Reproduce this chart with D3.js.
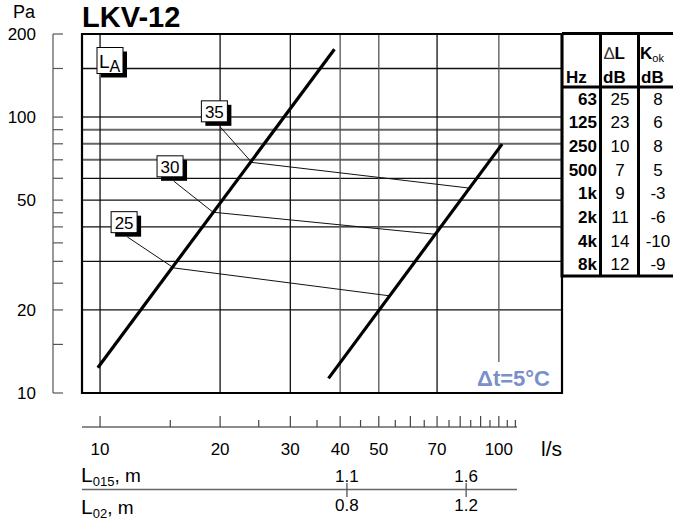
<!DOCTYPE html>
<html>
<head>
<meta charset="utf-8">
<script src="https://cdn.jsdelivr.net/npm/d3@7"></script>
<style>
  body { margin: 0; background: #fff; }
  text { font-family: Arial, "Liberation Sans", sans-serif; }
</style>
</head>
<body>
<script>
const width = 673
const height = 521

// y axis (Pa)
const yTicks = [10, 15, 20, 25, 30, 35, 40, 45, 50, 60, 70, 80, 90, 100, 150, 200]
const yLabels = [10, 20, 50, 100, 200]
const yGridDark = [20, 30, 40, 50, 60, 150]
const yGridGray = [70, 80, 90, 100]

// x axis (l/s)
const xGrid = [10, 20, 30, 40, 50, 70, 100]
const xLabels = [10, 20, 30, 40, 50, 70, 100]
const xMajor = [10, 20, 30, 40, 50, 60, 70, 80, 90, 100]
const xMinor = [15, 25, 35, 45, 55, 65, 75, 85, 95, 105, 110]

// throw distances (position on the flow scale)
const throwTicks = [41.6, 82.8]
const l015Labels = ['1.1', '1.6']
const l02Labels = ['0.8', '1.2']

// pressure curves [flow, Pa]
const curveA = [[9.87, 12.35], [38.7, 176]]
const curveB = [[37.4, 11.3], [101.9, 79.8]]

// sound level lines
const laNames = ['25', '30', '35']
const laLines = [
  [[11.7, 36.8], [15.3, 28.4], [53.2, 22.5]],
  [[15.3, 58.6], [19.2, 45.2], [69.2, 37.6]],
  [[20.0, 92.2], [24.0, 68.5], [84.2, 55.3]]
]
const laBoxes = [[11.49, 41.6], [14.98, 66.3], [19.35, 104.9]]

// table
const hz = ['63', '125', '250', '500', '1k', '2k', '4k', '8k']
const deltaL = [25, 23, 10, 7, 9, 11, 14, 12]
const kok = [8, 6, 8, 5, -3, -6, -10, -9]

const frame = { left: 82, right: 562, top: 34, bottom: 393 }

const svg = d3.select('body').append('svg')
  .attr('width', width)
  .attr('height', height)

const x = d3.scaleLog().domain([9.01, 144]).range([frame.left, frame.right])
const y = d3.scaleLog().domain([10, 200]).range([frame.bottom, frame.top])

// title & unit
svg.append('text').attr('x', 82).attr('y', 27)
  .attr('font-size', 29).attr('font-weight', 'bold').text('LKV-12')
svg.append('text').attr('x', 13).attr('y', 18)
  .attr('font-size', 18).text('Pa')

// left axis
svg.append('line')
  .attr('x1', 53).attr('x2', 53)
  .attr('y1', y(200)).attr('y2', y(10))
  .attr('stroke', '#555').attr('stroke-width', 1.2)
svg.selectAll('.ytick').data(yTicks).enter().append('line')
  .attr('x1', 53).attr('x2', 63)
  .attr('y1', y).attr('y2', y)
  .attr('stroke', '#555').attr('stroke-width', 1.2)
svg.selectAll('.ylab').data(yLabels).enter().append('text')
  .attr('x', 36).attr('y', d => y(d) + 6)
  .attr('text-anchor', 'end').attr('font-size', 17)
  .text(d => d)

// grid
const grid = svg.append('g')
grid.selectAll('.yg').data(yGridDark).enter().append('line')
  .attr('x1', frame.left).attr('x2', frame.right)
  .attr('y1', y).attr('y2', y)
  .attr('stroke', '#111').attr('stroke-width', 1.3)
grid.selectAll('.yg2').data(yGridGray).enter().append('line')
  .attr('x1', frame.left).attr('x2', frame.right)
  .attr('y1', y).attr('y2', y)
  .attr('stroke', '#666').attr('stroke-width', 2)
grid.selectAll('.xg').data(xGrid).enter().append('line')
  .attr('x1', x).attr('x2', x)
  .attr('y1', frame.top).attr('y2', frame.bottom)
  .attr('stroke', d => d >= 40 && d !== 70 ? '#555' : '#111')
  .attr('stroke-width', 1.3)

// white patch behind the temperature note
svg.append('rect')
  .attr('x', 466).attr('y', 362).attr('width', 95).attr('height', 30)
  .attr('fill', '#fff')
svg.append('text')
  .attr('x', 550).attr('y', 386)
  .attr('text-anchor', 'end')
  .attr('font-size', 22).attr('font-weight', 'bold')
  .attr('fill', '#7b8fca')
  .text('Δt=5°C')

// frame
svg.append('path')
  .attr('d', `M${frame.right},${frame.top}H${frame.left}V${frame.bottom}H${frame.right}V${frame.top}`)
  .attr('fill', 'none').attr('stroke', '#000').attr('stroke-width', 2.2)

const line = d3.line().x(d => x(d[0])).y(d => y(d[1]))

// sound level lines
svg.selectAll('.la').data(laLines).enter().append('path')
  .attr('d', line)
  .attr('fill', 'none').attr('stroke', '#111').attr('stroke-width', 1)

// pressure curves
svg.selectAll('.curve').data([curveA, curveB]).enter().append('path')
  .attr('d', line)
  .attr('fill', 'none').attr('stroke', '#000').attr('stroke-width', 3.2)

// label boxes with shadow
function labelBox(cx, cy, w, h) {
  const g = svg.append('g')
  g.append('rect')
    .attr('x', cx - w / 2 + 4).attr('y', cy - h / 2 + 4)
    .attr('width', w).attr('height', h).attr('fill', '#000')
  g.append('rect')
    .attr('x', cx - w / 2).attr('y', cy - h / 2)
    .attr('width', w).attr('height', h)
    .attr('fill', '#fff').attr('stroke', '#000').attr('stroke-width', 1)
  return g
}

laBoxes.forEach((d, i) => {
  const g = labelBox(x(d[0]), y(d[1]), 26, 21)
  g.append('text')
    .attr('x', x(d[0])).attr('y', y(d[1]) + 6.5)
    .attr('text-anchor', 'middle').attr('font-size', 17)
    .text(laNames[i])
})

const la = labelBox(110, 60.5, 26, 26)
const laText = la.append('text').attr('x', 99).attr('y', 68).attr('font-size', 19)
laText.append('tspan').text('L')
laText.append('tspan').attr('font-size', 16).attr('dy', 4).text('A')

// bottom flow axis
const axisY = 427
svg.append('line')
  .attr('x1', frame.left).attr('x2', 517)
  .attr('y1', axisY).attr('y2', axisY)
  .attr('stroke', '#666').attr('stroke-width', 1.5)
svg.selectAll('.xmaj').data(xMajor).enter().append('line')
  .attr('x1', x).attr('x2', x)
  .attr('y1', axisY - 11).attr('y2', axisY)
  .attr('stroke', '#444').attr('stroke-width', 1.2)
svg.selectAll('.xmin').data(xMinor).enter().append('line')
  .attr('x1', x).attr('x2', x)
  .attr('y1', axisY - 7).attr('y2', axisY)
  .attr('stroke', '#444').attr('stroke-width', 1.2)
svg.selectAll('.xlab').data(xLabels).enter().append('text')
  .attr('x', x).attr('y', 455)
  .attr('text-anchor', 'middle').attr('font-size', 17)
  .text(d => d)
svg.append('text').attr('x', 541).attr('y', 456)
  .attr('font-size', 21).text('l/s')

// throw distance scale
function subLabel(yPos, sub) {
  const t = svg.append('text').attr('x', 81).attr('y', yPos).attr('font-size', 21)
  t.append('tspan').text('L')
  t.append('tspan').attr('font-size', 13).attr('dy', 4).text(sub)
  t.append('tspan').attr('dy', -4).attr('font-size', 19).text(', m')
}
subLabel(482, '015')
subLabel(514, '02')

svg.append('line')
  .attr('x1', frame.left).attr('x2', 517)
  .attr('y1', 489.5).attr('y2', 489.5)
  .attr('stroke', '#666').attr('stroke-width', 1.5)
svg.selectAll('.ttick').data(throwTicks).enter().append('line')
  .attr('x1', x).attr('x2', x)
  .attr('y1', 483).attr('y2', 497)
  .attr('stroke', '#555').attr('stroke-width', 1.3)
svg.selectAll('.t1').data(throwTicks).enter().append('text')
  .attr('x', x).attr('y', 482)
  .attr('text-anchor', 'middle').attr('font-size', 17)
  .text((d, i) => l015Labels[i])
svg.selectAll('.t2').data(throwTicks).enter().append('text')
  .attr('x', x).attr('y', 511)
  .attr('text-anchor', 'middle').attr('font-size', 17)
  .text((d, i) => l02Labels[i])

// octave table
const table = svg.append('g')
const rowY = d3.scaleBand().domain(hz).range([87, 276])
const cols = { c1: 562, c2: 600.5, c3: 638.5, end: 673 }

table.selectAll('.hz').data(hz).enter().append('text')
  .attr('x', 597).attr('y', d => rowY(d) + rowY.bandwidth() / 2 + 6)
  .attr('text-anchor', 'end').attr('font-size', 17).attr('font-weight', 'bold')
  .text(d => d)
table.selectAll('.dl').data(deltaL).enter().append('text')
  .attr('x', 620).attr('y', (d, i) => rowY(hz[i]) + rowY.bandwidth() / 2 + 6)
  .attr('text-anchor', 'middle').attr('font-size', 17)
  .text(d => d)
table.selectAll('.kok').data(kok).enter().append('text')
  .attr('x', 658).attr('y', (d, i) => rowY(hz[i]) + rowY.bandwidth() / 2 + 6)
  .attr('text-anchor', 'middle').attr('font-size', 17)
  .text(d => d)

// header
table.append('text').attr('x', 566).attr('y', 83)
  .attr('font-size', 17).attr('font-weight', 'bold').text('Hz')
table.append('text').attr('x', 603).attr('y', 83)
  .attr('font-size', 17).attr('font-weight', 'bold').text('dB')
table.append('text').attr('x', 641).attr('y', 83)
  .attr('font-size', 17).attr('font-weight', 'bold').text('dB')
const dlHead = table.append('text').attr('x', 604).attr('y', 59).attr('font-size', 17)
dlHead.append('tspan').attr('fill', '#333').text('∆')
dlHead.append('tspan').attr('font-weight', 'bold').text('L')
const kHead = table.append('text').attr('x', 640).attr('y', 59).attr('font-size', 17)
kHead.append('tspan').attr('font-weight', 'bold').text('K')
kHead.append('tspan').attr('font-size', 11).attr('dy', 3).text('ok')

const tl = (x1, y1, x2, y2) => table.append('line')
  .attr('x1', x1).attr('y1', y1).attr('x2', x2).attr('y2', y2)
  .attr('stroke', '#000').attr('stroke-width', 3)
tl(cols.c1, 33.5, cols.end, 33.5)
tl(cols.c1, 87, cols.end, 87)
tl(cols.c1, 276, cols.end, 276)
tl(cols.c1, 33, cols.c1, 277.5)
tl(cols.c2, 33, cols.c2, 276)
tl(cols.c3, 33, cols.c3, 276)
</script>
</body>
</html>
